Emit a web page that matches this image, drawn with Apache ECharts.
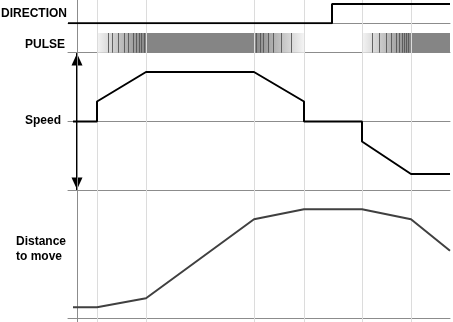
<!DOCTYPE html>
<html>
<head>
<meta charset="utf-8">
<script src="https://cdn.jsdelivr.net/npm/echarts@6/dist/echarts.min.js"></script>
<style>
html,body{margin:0;padding:0;background:#fff;}
#chart{width:453px;height:322px;}
</style>
</head>
<body>
<div id="chart"></div>
<script>
// ---- data (time axis: 0 = vertical axis) ----
const guideTimes = [20, 69, 177, 227, 285, 334];

const directionTimes = [-9, 255, 255, 373];
const directionLevels = [0, 0, 1, 1];

const pulseRampUp = [[20, 69], [285, 334]];
const pulseRampDown = [[177, 227]];
const pulseSteady = [[69, 177], [334, 373]];
const pulseEdges = [31, 35, 41, 47, 51, 56, 59, 62, 64, 67,
                    179, 183, 186, 191, 196, 204, 214,
                    295, 302, 309, 314, 319, 322, 325, 327, 329, 331];

const speedTimes = [-4, 20, 20, 69, 177, 227, 227, 285, 285, 334, 373];
const speedValues = [0, 0, 20, 49.5, 49.5, 20, 0, 0, -20, -52.5, -52.5];

const distanceTimes = [-4, 20, 69, 177, 227, 285, 334, 373];
const distanceValues = [10.7, 10.7, 19.7, 98.7, 108.7, 108.7, 98.7, 67.3];

const labels = ['DIRECTION', 'PULSE', 'Speed', 'Distance', 'to move'];

// ---- helpers ----
const zip = (a, b) => a.map((v, i) => [v, b[i]]);
const LIGHT = '#f4f4f4', DARK = '#858585';
const grad = (from, to) => new echarts.graphic.LinearGradient(0, 0, 1, 0, [
  {offset: 0, color: from}, {offset: 1, color: to}
]);
const areaData = []
  .concat(pulseRampUp.map(r => [{xAxis: r[0], itemStyle: {color: grad(LIGHT, DARK)}}, {xAxis: r[1]}]))
  .concat(pulseRampDown.map(r => [{xAxis: r[0], itemStyle: {color: grad(DARK, LIGHT)}}, {xAxis: r[1]}]))
  .concat(pulseSteady.map(r => [{xAxis: r[0], itemStyle: {color: DARK}}, {xAxis: r[1]}]));

const L = 68, R = 3, XMIN = -9, XMAX = 373;
const font = "bold 12px 'Liberation Sans', Arial, sans-serif";
const hiddenY = (gi, min, max) => ({gridIndex: gi, type: 'value', min, max, show: false});
const baseX = (gi, extra) => Object.assign({
  gridIndex: gi, type: 'value', min: XMIN, max: XMAX,
  axisLine: {show: true, onZero: false, lineStyle: {color: '#8c8c8c', width: 1}},
  axisTick: {show: false}, axisLabel: {show: false}, splitLine: {show: false}
}, extra || {});

const chart = echarts.init(document.getElementById('chart'), null, {renderer: 'canvas'});
chart.setOption({
  animation: false,
  backgroundColor: '#ffffff',
  grid: [
    {left: L, right: R, top: 0, bottom: 0},
    {left: L, right: R, top: 4, height: 19.3},
    {left: L, right: R, top: 33, height: 19.7},
    {left: L, right: R, top: 53.5, height: 136},
    {left: L, right: R, top: 190, height: 128}
  ],
  xAxis: [
    baseX(0, {axisLine: {show: false}}),
    baseX(1),
    baseX(2),
    baseX(3, {axisLine: {show: true, onZero: true, lineStyle: {color: '#8c8c8c', width: 1}}}),
    baseX(4),
    baseX(4, {position: 'top'})
  ],
  yAxis: [
    hiddenY(0, 0, 1),
    hiddenY(1, 0, 1),
    hiddenY(2, 0, 1),
    {gridIndex: 3, type: 'value', min: -68, max: 68,
     axisLine: {show: true, onZero: true, symbol: ['triangle', 'triangle'], symbolSize: [11, 12], symbolOffset: [6, -6],
                lineStyle: {color: '#000', width: 2}},
     axisTick: {show: false}, axisLabel: {show: false}, splitLine: {show: false}},
    hiddenY(4, 0, 128)
  ],
  series: [
    {type: 'line', xAxisIndex: 0, yAxisIndex: 0, data: [[XMIN, 0]], symbol: 'none', z: 1, silent: true,
     lineStyle: {opacity: 0},
     markLine: {silent: true, symbol: 'none', label: {show: false}, animation: false,
       data: guideTimes.map(t => ({xAxis: t, lineStyle: {color: '#dcdcdc', width: 1, type: 'solid'}}))
         .concat([{xAxis: 0, lineStyle: {color: '#8c8c8c', width: 1, type: 'solid'}}])}},
    {type: 'line', xAxisIndex: 1, yAxisIndex: 1, data: zip(directionTimes, directionLevels), symbol: 'none',
     lineStyle: {color: '#000', width: 2}, z: 5},
    {type: 'line', xAxisIndex: 2, yAxisIndex: 2, data: [[XMIN, 0]], symbol: 'none', lineStyle: {opacity: 0}, z: 3,
     markArea: {silent: true, data: areaData},
     markLine: {silent: true, symbol: 'none', label: {show: false},
       lineStyle: {color: '#555', width: 1, type: 'solid', opacity: 0.9},
       data: pulseEdges.map(t => ({xAxis: t}))}},
    {type: 'line', xAxisIndex: 3, yAxisIndex: 3, data: zip(speedTimes, speedValues), symbol: 'none',
     lineStyle: {color: '#000', width: 2}, z: 5},
    {type: 'line', xAxisIndex: 4, yAxisIndex: 4, data: zip(distanceTimes, distanceValues), symbol: 'none',
     lineStyle: {color: '#404040', width: 2}, z: 5}
  ],
  graphic: [
    {type: 'text', x: 1, y: 14, style: {text: labels[0], font, fill: '#000', verticalAlign: 'middle'}},
    {type: 'text', x: 25, y: 44.5, style: {text: labels[1], font, fill: '#000', verticalAlign: 'middle'}},
    {type: 'text', x: 25, y: 120.5, style: {text: labels[2], font, fill: '#000', verticalAlign: 'middle'}},
    {type: 'text', x: 16, y: 242, style: {text: labels[3], font, fill: '#000', verticalAlign: 'middle'}},
    {type: 'text', x: 16, y: 257, style: {text: labels[4], font, fill: '#000', verticalAlign: 'middle'}}
  ]
});
</script>
</body>
</html>
